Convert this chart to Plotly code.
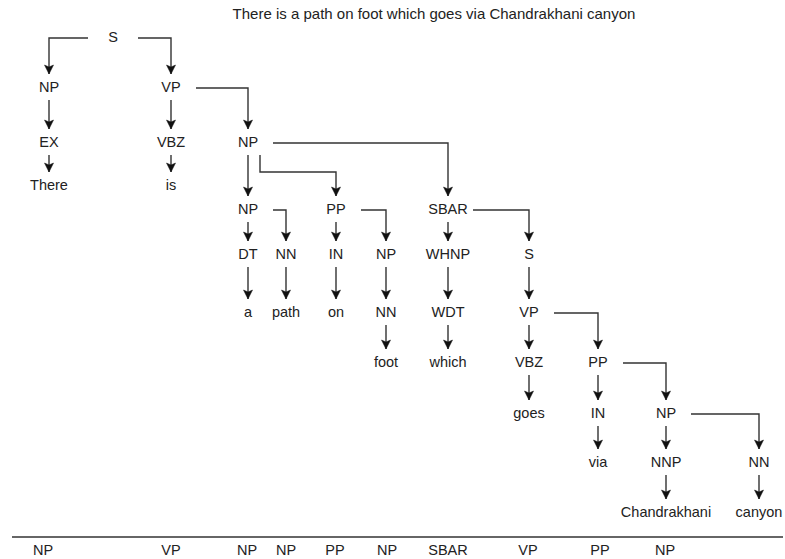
import plotly.graph_objects as go

# ---------------- data ----------------
SENTENCE = "There is a path on foot which goes via Chandrakhani canyon"

NODE_LABELS = ["S", "NP", "VP", "EX", "There", "VBZ", "is", "NP",
               "NP", "PP", "SBAR", "DT", "NN", "a", "path", "IN", "NP",
               "on", "NN", "foot", "WHNP", "S", "WDT", "which", "VP",
               "VBZ", "PP", "goes", "IN", "NP", "via", "NNP", "NN",
               "Chandrakhani", "canyon"]
NODE_PARENTS = [-1, 0, 0, 1, 3, 2, 5, 2,
                7, 7, 7, 8, 8, 11, 12, 9, 9,
                15, 16, 18, 10, 10, 20, 22, 21,
                24, 24, 25, 26, 26, 28, 29, 29,
                31, 32]

CHUNK_LABELS = ["NP", "VP", "NP", "NP", "PP", "NP", "SBAR", "VP", "PP", "NP"]

# ---------------- layout (grid placement) ----------------
NODE_COL = [1, 0, 2, 0, 0, 2, 2, 3,
            3, 5, 7, 3, 4, 3, 4, 5, 6,
            5, 6, 6, 7, 8, 7, 7, 8,
            8, 9, 8, 9, 10, 9, 10, 11,
            10, 11]
NODE_ROW = [0, 1, 1, 2, 3, 2, 3, 2,
            4, 4, 4, 5, 5, 6, 6, 5, 5,
            6, 6, 7, 5, 5, 6, 7, 6,
            7, 7, 8, 8, 8, 9, 9, 9,
            10, 10]
COL_X = [49, 113, 171, 248, 286, 336, 386, 448, 529, 598, 666, 759]
ROW_Y = [38, 88, 143, 186, 210, 255, 313, 363, 414, 463, 513]
CHUNK_X = [43, 171, 247, 286, 335, 387, 448, 528, 600, 665]
CHUNK_Y = 551
RULE_Y = 537

W, H = 785, 559
FONT = "Liberation Sans, Arial, Helvetica, sans-serif"
INK = "#222222"
LINE = "#333333"

nx = [COL_X[c] for c in NODE_COL]
ny = [ROW_Y[r] for r in NODE_ROW]

children = {}
for i, p in enumerate(NODE_PARENTS):
    if p >= 0:
        children.setdefault(p, []).append(i)

line_x, line_y = [], []
heads = []
for p, kids in children.items():
    px, py = nx[p], ny[p]
    right = sorted([k for k in kids if nx[k] > px + 5], key=lambda k: nx[k])
    for k in kids:
        cx, cy = nx[k], ny[k]
        tip = cy - 14
        if abs(cx - px) <= 5:
            pts = [(cx, py + 12), (cx, tip)]
        elif cx < px:
            pts = [(px - 25, py), (cx, py), (cx, tip)]
        elif k == right[-1]:
            pts = [(px + 25, py), (cx, py), (cx, tip)]
        else:
            ey = py + 29
            pts = [(px + 12, py + 12), (px + 12, ey), (cx, ey), (cx, tip)]
        for (x, y) in pts:
            line_x.append(x)
            line_y.append(y)
        line_x.append(None)
        line_y.append(None)
        heads.append((cx, tip))

fig = go.Figure()
fig.add_trace(go.Scatter(x=line_x, y=line_y, mode="lines",
                         line=dict(color=LINE, width=1.4),
                         hoverinfo="skip", showlegend=False))

shapes = []
for (hx, hy) in heads:
    shapes.append(dict(
        type="path", xref="x", yref="y",
        path=f"M {hx-4.5},{hy-9} L {hx},{hy-7} L {hx+4.5},{hy-9} L {hx},{hy} Z",
        fillcolor="#111111", line=dict(color="#111111", width=0.5)))
shapes.append(dict(type="line", xref="x", yref="y", x0=12, x1=783,
                   y0=RULE_Y, y1=RULE_Y, line=dict(color=LINE, width=1.5)))

fig.add_trace(go.Scatter(x=nx, y=ny, mode="text", text=NODE_LABELS,
                         textposition="middle center",
                         textfont=dict(family=FONT, size=14.5, color=INK),
                         hoverinfo="skip", showlegend=False))
fig.add_trace(go.Scatter(x=CHUNK_X, y=[CHUNK_Y] * len(CHUNK_X), mode="text",
                         text=CHUNK_LABELS, textposition="middle center",
                         textfont=dict(family=FONT, size=14.5, color=INK),
                         hoverinfo="skip", showlegend=False))
fig.add_trace(go.Scatter(x=[434], y=[15], mode="text", text=[SENTENCE],
                         textposition="middle center",
                         textfont=dict(family=FONT, size=15, color=INK),
                         hoverinfo="skip", showlegend=False))

fig.update_layout(
    width=W, height=H, margin=dict(l=0, r=0, t=0, b=0),
    paper_bgcolor="white", plot_bgcolor="white",
    xaxis=dict(range=[0, W], visible=False, fixedrange=True),
    yaxis=dict(range=[H, 0], visible=False, fixedrange=True),
    shapes=shapes, showlegend=False,
)

fig.write_html("out.html", config={"displayModeBar": False},
               post_script="document.body.style.margin='0';"
                           "document.body.style.overflow='hidden';")
